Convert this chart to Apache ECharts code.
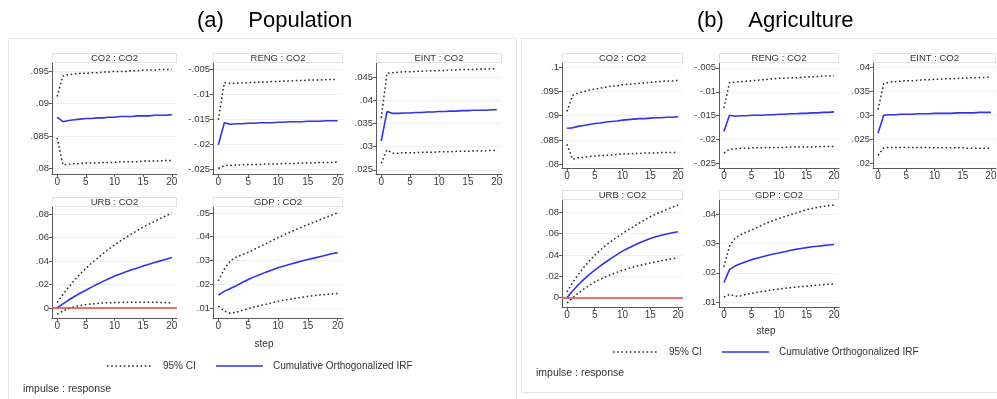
<!DOCTYPE html>
<html><head><meta charset="utf-8">
<script src="https://cdn.jsdelivr.net/npm/echarts@6/dist/echarts.min.js"></script>
<style>html,body{margin:0;padding:0;background:#fff}#c{width:997px;height:399px}</style>
</head><body><div id="c"></div>
<script>
// ---------------- data ----------------
const steps = [0,1,2,3,4,5,6,7,8,9,10,11,12,13,14,15,16,17,18,19,20];

// (a) Population
const popCO2Upper = [.0911,.0943,.0945,.0946,.0947,.0947,.0948,.0948,.0949,.0949,.0950,.0950,.0950,.0951,.0951,.0952,.0952,.0952,.0953,.0953,.0953];
const popCO2Irf   = [.0879,.0872,.0874,.0875,.0876,.0877,.0877,.0878,.0878,.0879,.0879,.0880,.0880,.0880,.0881,.0881,.0881,.0882,.0882,.0882,.0883];
const popCO2Lower = [.0847,.0805,.0806,.0807,.0807,.0808,.0808,.0808,.0809,.0809,.0809,.0810,.0810,.0810,.0810,.0811,.0811,.0811,.0811,.0812,.0812];

const popRENGUpper = [-.0151,-.0077,-.0079,-.0078,-.0078,-.0077,-.0077,-.0076,-.0076,-.0075,-.0075,-.0074,-.0074,-.0073,-.0073,-.0072,-.0072,-.0072,-.0071,-.0071,-.0071];
const popRENGIrf   = [-.0201,-.0157,-.0160,-.0159,-.0159,-.0158,-.0158,-.0157,-.0157,-.0157,-.0156,-.0156,-.0155,-.0155,-.0155,-.0154,-.0154,-.0154,-.0153,-.0153,-.0153];
const popRENGLower = [-.0248,-.0242,-.0242,-.0241,-.0241,-.0240,-.0240,-.0240,-.0239,-.0239,-.0239,-.0238,-.0238,-.0238,-.0237,-.0237,-.0237,-.0236,-.0236,-.0236,-.0235];

const popEINTUpper = [.0362,.0459,.0460,.0461,.0462,.0462,.0463,.0463,.0464,.0464,.0465,.0465,.0466,.0466,.0467,.0467,.0467,.0468,.0468,.0468,.0469];
const popEINTIrf   = [.0312,.0376,.0372,.0372,.0373,.0373,.0374,.0374,.0375,.0375,.0376,.0376,.0377,.0377,.0378,.0378,.0379,.0379,.0379,.0380,.0380];
const popEINTLower = [.0264,.0293,.0286,.0286,.0287,.0287,.0287,.0288,.0288,.0288,.0289,.0289,.0289,.0290,.0290,.0290,.0291,.0291,.0291,.0292,.0292];

const popURBUpper = [.0046,.0114,.0177,.0235,.0289,.0337,.0381,.0423,.0463,.0501,.0537,.0570,.0601,.0631,.0660,.0689,.0714,.0738,.0762,.0786,.0809];
const popURBIrf   = [.0000,.0035,.0067,.0097,.0125,.0151,.0177,.0202,.0226,.0249,.0271,.0290,.0308,.0325,.0341,.0357,.0372,.0387,.0401,.0415,.0429];
const popURBLower = [-.0054,-.0026,-.0005,.0010,.0020,.0028,.0034,.0038,.0042,.0044,.0046,.0047,.0048,.0049,.0049,.0049,.0049,.0048,.0047,.0045,.0043];

const popGDPUpper = [.0214,.0264,.0299,.0314,.0324,.0334,.0347,.0359,.0371,.0384,.0396,.0408,.0419,.0430,.0441,.0451,.0461,.0471,.0481,.0491,.0500];
const popGDPIrf   = [.0155,.0170,.0182,.0194,.0207,.0220,.0231,.0241,.0251,.0260,.0269,.0277,.0284,.0291,.0298,.0304,.0310,.0316,.0322,.0328,.0333];
const popGDPLower = [.0108,.0087,.0078,.0082,.0090,.0097,.0104,.0110,.0116,.0122,.0128,.0133,.0137,.0141,.0145,.0149,.0152,.0155,.0157,.0159,.0161];

// (b) Agriculture
const agrCO2Upper = [.0909,.0942,.0947,.0950,.0953,.0955,.0957,.0959,.0961,.0962,.0964,.0965,.0966,.0967,.0968,.0969,.0970,.0971,.0972,.0972,.0973];
const agrCO2Irf   = [.0874,.0875,.0878,.0880,.0882,.0884,.0885,.0887,.0888,.0889,.0891,.0892,.0893,.0894,.0894,.0895,.0896,.0896,.0897,.0897,.0898];
const agrCO2Lower = [.0841,.0810,.0813,.0814,.0816,.0817,.0818,.0818,.0819,.0820,.0821,.0821,.0822,.0822,.0823,.0823,.0823,.0824,.0824,.0824,.0824];

const agrRENGUpper = [-.0134,-.0081,-.0080,-.0079,-.0078,-.0077,-.0076,-.0075,-.0074,-.0073,-.0072,-.0072,-.0071,-.0071,-.0070,-.0069,-.0069,-.0068,-.0067,-.0067,-.0066];
const agrRENGIrf   = [-.0183,-.0149,-.0151,-.0150,-.0150,-.0149,-.0149,-.0149,-.0148,-.0148,-.0147,-.0147,-.0146,-.0146,-.0145,-.0145,-.0144,-.0144,-.0143,-.0143,-.0142];
const agrRENGLower = [-.0228,-.0220,-.0219,-.0218,-.0218,-.0217,-.0217,-.0217,-.0216,-.0216,-.0216,-.0216,-.0215,-.0215,-.0215,-.0215,-.0215,-.0214,-.0214,-.0214,-.0214];

const agrEINTUpper = [.0312,.0366,.0369,.0370,.0371,.0372,.0372,.0373,.0374,.0374,.0375,.0375,.0376,.0376,.0377,.0377,.0378,.0378,.0379,.0379,.0380];
const agrEINTIrf   = [.0263,.0300,.0301,.0301,.0302,.0302,.0302,.0303,.0303,.0303,.0304,.0304,.0304,.0304,.0305,.0305,.0305,.0305,.0306,.0306,.0306];
const agrEINTLower = [.0216,.0232,.0233,.0233,.0233,.0233,.0233,.0233,.0233,.0233,.0232,.0232,.0232,.0232,.0232,.0232,.0231,.0231,.0231,.0231,.0231];

const agrURBUpper = [.0053,.0138,.0214,.0282,.0343,.0398,.0446,.0490,.0530,.0567,.0602,.0636,.0668,.0699,.0729,.0759,.0783,.0806,.0828,.0849,.0869];
const agrURBIrf   = [.0000,.0062,.0118,.0169,.0215,.0257,.0297,.0334,.0370,.0404,.0436,.0464,.0489,.0512,.0534,.0555,.0571,.0585,.0597,.0608,.0618];
const agrURBLower = [-.0050,-.0002,.0041,.0079,.0114,.0147,.0173,.0196,.0217,.0237,.0257,.0273,.0287,.0300,.0313,.0326,.0337,.0347,.0356,.0365,.0373];

const agrGDPUpper = [.0220,.0291,.0318,.0330,.0339,.0346,.0355,.0364,.0372,.0379,.0386,.0392,.0398,.0404,.0410,.0416,.0420,.0424,.0427,.0430,.0432];
const agrGDPIrf   = [.0167,.0211,.0223,.0231,.0238,.0245,.0250,.0255,.0260,.0264,.0268,.0272,.0276,.0280,.0283,.0286,.0289,.0291,.0293,.0295,.0297];
const agrGDPLower = [.0117,.0126,.0120,.0121,.0126,.0130,.0133,.0136,.0139,.0142,.0145,.0147,.0149,.0151,.0153,.0154,.0156,.0158,.0159,.0161,.0162];

// tick labels
const xTicks = [0,5,10,15,20];
const popCO2Ticks  = [.08,.085,.09,.095];
const popRENGTicks = [-.025,-.02,-.015,-.01,-.005];
const popEINTTicks = [.025,.03,.035,.04,.045];
const popURBTicks  = [0,.02,.04,.06,.08];
const popGDPTicks  = [.01,.02,.03,.04,.05];
const agrCO2Ticks  = [.08,.085,.09,.095,.1];
const agrRENGTicks = [-.025,-.02,-.015,-.01,-.005];
const agrEINTTicks = [.02,.025,.03,.035,.04];
const agrURBTicks  = [0,.02,.04,.06,.08];
const agrGDPTicks  = [.01,.02,.03,.04];

const ciName = '95% CI';
const irfName = 'Cumulative Orthogonalized IRF';

// ---------------- layout ----------------
const FONT = 'Liberation Sans, Arial, Helvetica, sans-serif';
const panels = [
  {t:'CO2 : CO2',  up:popCO2Upper,  irf:popCO2Irf,  lo:popCO2Lower,  ticks:popCO2Ticks,  min:.0791, max:.0963, box:[52,63,177,174]},
  {t:'RENG : CO2', up:popRENGUpper, irf:popRENGIrf, lo:popRENGLower, ticks:popRENGTicks, min:-.0259, max:-.0038, box:[213,63,343,174]},
  {t:'EINT : CO2', up:popEINTUpper, irf:popEINTIrf, lo:popEINTLower, ticks:popEINTTicks, min:.0241, max:.0481, box:[376,63,502,174]},
  {t:'URB : CO2',  up:popURBUpper,  irf:popURBIrf,  lo:popURBLower,  ticks:popURBTicks,  min:-.0086, max:.086, box:[52,207,177,318], zero:true},
  {t:'GDP : CO2',  up:popGDPUpper,  irf:popGDPIrf,  lo:popGDPLower,  ticks:popGDPTicks,  min:.0058, max:.0525, box:[213,207,343,318]},
  {t:'CO2 : CO2',  up:agrCO2Upper,  irf:agrCO2Irf,  lo:agrCO2Lower,  ticks:agrCO2Ticks,  min:.0792, max:.1009, box:[562,63,683,168]},
  {t:'RENG : CO2', up:agrRENGUpper, irf:agrRENGIrf, lo:agrRENGLower, ticks:agrRENGTicks, min:-.0259, max:-.004, box:[719,63,839,168]},
  {t:'EINT : CO2', up:agrEINTUpper, irf:agrEINTIrf, lo:agrEINTLower, ticks:agrEINTTicks, min:.019, max:.0409, box:[873,63,996,168]},
  {t:'URB : CO2',  up:agrURBUpper,  irf:agrURBIrf,  lo:agrURBLower,  ticks:agrURBTicks,  min:-.0088, max:.0916, box:[562,200,683,307], zero:true},
  {t:'GDP : CO2',  up:agrGDPUpper,  irf:agrGDPIrf,  lo:agrGDPLower,  ticks:agrGDPTicks,  min:.0083, max:.0449, box:[719,200,839,307]}
];

function stataFmt(v){
  const s = String(Number((+v).toFixed(4)));
  return s.replace(/^(-?)0\./, '$1.');
}
const pair = arr => steps.map((s,i)=>[s, arr[i]]);

const grids=[], xAxes=[], yAxes=[], series=[], graphics=[];
const axisCol = '#5a5a5a', labCol = '#3a3a3a';
const dotStyle = {color:'#2a2a2a', width:1.5, type:[1.6,2.6], cap:'butt'};
const irfStyle = {color:'#3232e6', width:1.6};

panels.forEach((p,i)=>{
  const [l,t,r,b] = p.box;
  grids.push({left:l, top:t, width:r-l, height:b-t, outerBoundsMode:'none', containLabel:false});
  xAxes.push({type:'value', gridIndex:i, min:-0.9, max:20.9,
    axisLine:{show:true, onZero:false, lineStyle:{color:axisCol, width:1}},
    axisTick:{show:true, length:3, customValues:xTicks, lineStyle:{color:axisCol}},
    axisLabel:{customValues:xTicks, fontSize:10, color:labCol, fontFamily:FONT, margin:3},
    splitLine:{show:false}});
  yAxes.push({type:'value', gridIndex:i, min:p.min, max:p.max,
    axisLine:{show:true, onZero:false, lineStyle:{color:axisCol, width:1}},
    axisTick:{show:true, length:3, customValues:p.ticks, lineStyle:{color:axisCol}},
    axisLabel:{customValues:p.ticks, fontSize:9.5, color:labCol, fontFamily:FONT, margin:3, formatter:stataFmt},
    splitLine:{show:true, lineStyle:{color:'#eceff2', width:1}}});
  series.push({type:'line', name:ciName, xAxisIndex:i, yAxisIndex:i, data:pair(p.up), symbol:'none', lineStyle:dotStyle, animation:false, silent:true});
  series.push({type:'line', name:ciName, xAxisIndex:i, yAxisIndex:i, data:pair(p.lo), symbol:'none', lineStyle:dotStyle, animation:false, silent:true});
  const irfSeries = {type:'line', name:irfName, xAxisIndex:i, yAxisIndex:i, data:pair(p.irf), symbol:'none', lineStyle:irfStyle, animation:false, silent:true, z:3};
  if (p.zero) {
    irfSeries.markLine = {silent:true, symbol:'none', label:{show:false}, animation:false,
      lineStyle:{color:'#e8453c', width:1.6, type:'solid'}, data:[{yAxis:0}]};
  }
  series.push(irfSeries);
  // header strip
  graphics.push({type:'rect', shape:{x:l+0.5, y:t-9.5, width:r-l-1, height:9}, style:{fill:'#fff', stroke:'#dde2e6', lineWidth:1}, z:1});
  graphics.push({type:'text', x:(l+r)/2, y:t-5, style:{text:p.t, fill:'#333', font:'9.5px '+FONT, textAlign:'center', textVerticalAlign:'middle'}, z:2});
});

// panel frames
graphics.push({type:'rect', shape:{x:8.5, y:38.5, width:508, height:380}, style:{fill:'none', stroke:'#e2e7eb', lineWidth:1}, z:0});
graphics.push({type:'rect', shape:{x:521.5, y:38.5, width:490, height:354}, style:{fill:'none', stroke:'#e2e7eb', lineWidth:1}, z:0});

function legendG(x0, y){
  graphics.push({type:'line', shape:{x1:x0, y1:y, x2:x0+45, y2:y}, style:{stroke:'#2a2a2a', lineWidth:1.5, lineDash:[1.6,2.6]}});
  graphics.push({type:'text', x:x0+56, y:y, style:{text:ciName, fill:'#333', font:'10px '+FONT, textVerticalAlign:'middle'}});
  graphics.push({type:'line', shape:{x1:x0+109, y1:y, x2:x0+156, y2:y}, style:{stroke:'#3232e6', lineWidth:1.6}});
  graphics.push({type:'text', x:x0+166, y:y, style:{text:irfName, fill:'#333', font:'10px '+FONT, textVerticalAlign:'middle'}});
}
legendG(107, 366);
legendG(613, 352);
graphics.push({type:'text', x:264, y:344, style:{text:'step', fill:'#333', font:'10px '+FONT, textAlign:'center', textVerticalAlign:'middle'}});
graphics.push({type:'text', x:766, y:331, style:{text:'step', fill:'#333', font:'10px '+FONT, textAlign:'center', textVerticalAlign:'middle'}});
graphics.push({type:'text', x:23, y:389, style:{text:'impulse : response', fill:'#333', font:'10.5px '+FONT, textVerticalAlign:'middle'}});
graphics.push({type:'text', x:536, y:373, style:{text:'impulse : response', fill:'#333', font:'10.5px '+FONT, textVerticalAlign:'middle'}});

const chart = echarts.init(document.getElementById('c'), null, {renderer:'canvas'});
chart.setOption({
  backgroundColor:'#fff',
  animation:false,
  title:[
    {text:'(a)    Population', left:192, top:5, textStyle:{fontSize:22, fontWeight:'normal', color:'#000', fontFamily:FONT}},
    {text:'(b)    Agriculture', left:692, top:5, textStyle:{fontSize:22, fontWeight:'normal', color:'#000', fontFamily:FONT}}
  ],
  grid:grids, xAxis:xAxes, yAxis:yAxes, series:series, graphic:graphics
});
</script></body></html>
